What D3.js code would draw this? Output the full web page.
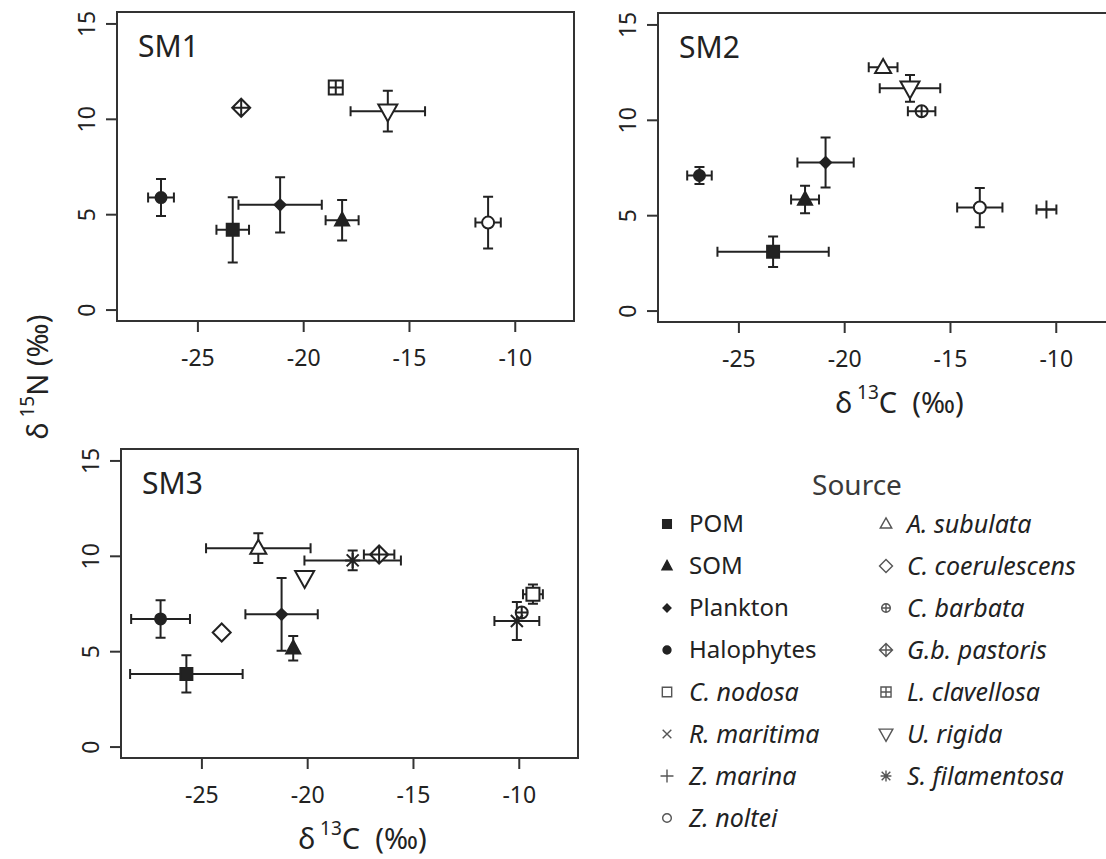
<!DOCTYPE html>
<html><head><meta charset="utf-8">
<script src="https://cdn.jsdelivr.net/npm/d3@7"></script>
<style>body{margin:0;background:#fff} svg{display:block;font-family:"Noto Sans",sans-serif}</style>
</head><body><svg id="c" width="1106" height="859"></svg>
<script>
// ---------- data ----------
const sources = ["POM","SOM","Plankton","Halophytes","C. nodosa","R. maritima","Z. marina","Z. noltei",
  "A. subulata","C. coerulescens","C. barbata","G.b. pastoris","L. clavellosa","U. rigida","S. filamentosa"];
const plainSources = ["POM","SOM","Plankton","Halophytes"];
const xTicks = [-25,-20,-15,-10];
const yTicks = [0,5,10,15];
const xDomain = [-28.8,-7.2];
const yDomain = [-0.6,15.6];

const sm1Source = ["Halophytes","POM","Plankton","SOM","Z. noltei","G.b. pastoris","L. clavellosa","U. rigida"];
const sm1C   = [-26.72,-23.33,-21.09,-18.16,-11.26,-22.93,-18.46,-16.0];
const sm1N   = [5.87,4.18,5.49,4.68,4.56,10.58,11.64,10.4];
const sm1CSd = [0.61,0.77,1.97,0.78,0.6,0,0,1.76];
const sm1NSd = [0.97,1.71,1.45,1.06,1.36,0,0,1.07];

const sm2Source = ["Halophytes","POM","SOM","Plankton","A. subulata","U. rigida","C. barbata","Z. noltei","Z. marina"];
const sm2C   = [-26.84,-23.36,-21.85,-20.88,-18.16,-16.89,-16.34,-13.59,-10.44];
const sm2N   = [7.08,3.08,5.82,7.76,12.75,11.65,10.45,5.40,5.30];
const sm2CSd = [0.58,2.63,0.66,1.33,0.68,1.43,0.65,1.07,0.47];
const sm2NSd = [0.45,0.8,0.72,1.31,0,0.7,0,1.03,0];

const sm3Source = ["Halophytes","POM","C. coerulescens","A. subulata","Plankton","SOM","U. rigida","S. filamentosa","G.b. pastoris","C. nodosa","C. barbata","R. maritima"];
const sm3C   = [-26.93,-25.71,-24.04,-22.31,-21.21,-20.66,-20.12,-17.85,-16.6,-9.33,-9.86,-10.09];
const sm3N   = [6.69,3.81,5.98,10.4,6.93,5.15,8.85,9.76,10.07,7.99,7.03,6.58];
const sm3CSd = [1.39,2.66,0,2.47,1.71,0,0,2.28,0.72,0.47,0,1.06];
const sm3NSd = [0.98,0.98,0,0.78,1.91,0.64,0,0.52,0,0.5,0,1.0];

// ---------- helpers ----------
const INK = "#222";
const svg = d3.select("#c");
const W = 457, H = 309;

function sq(h){return `M${-h},${-h}H${h}V${h}H${-h}Z`;}
function circ(r){return `M${-r},0A${r},${r} 0 1,0 ${r},0A${r},${r} 0 1,0 ${-r},0Z`;}
function dia(h){return `M0,${-h}L${h},0L0,${h}L${-h},0Z`;}
function plus(h){return `M${-h},0H${h}M0,${-h}V${h}`;}
function cross(h){return `M${-h},${-h}L${h},${h}M${-h},${h}L${h},${-h}`;}
function triUp(w,h){return `M0,${-h*0.6}L${w/2},${h*0.4}L${-w/2},${h*0.4}Z`;}
function triDown(w,h){return `M0,${h*0.6}L${w/2},${-h*0.4}L${-w/2},${-h*0.4}Z`;}

function marker(name,k){
  switch(name){
    case "POM": return {d:sq(6*k), f:"ink"};
    case "SOM": return {d:triUp(14*k,13*k), f:"ink"};
    case "Plankton": return {d:dia(5.5*k), f:"ink"};
    case "Halophytes": return {d:circ(5.5*k), f:"ink"};
    case "C. nodosa": return {d:sq(6.5*k), f:"white"};
    case "R. maritima": return {d:cross(6*k), f:"none"};
    case "Z. marina": return {d:plus(9*k), f:"none"};
    case "Z. noltei": return {d:circ(6*k), f:"white"};
    case "A. subulata": return {d:triUp(16*k,14*k), f:"white"};
    case "C. coerulescens": return {d:dia(9*k), f:"white"};
    case "C. barbata": return {d:circ(6*k)+plus(6*k), f:"white"};
    case "G.b. pastoris": return {d:dia(9*k)+plus(9*k), f:"white"};
    case "L. clavellosa": return {d:sq(7*k)+plus(7*k), f:"white"};
    case "U. rigida": return {d:triDown(19*k,17*k), f:"white"};
    case "S. filamentosa": return {d:plus(7.5*k)+cross(6*k), f:"none"};
  }
}

function xTitle(g, cx, baseline){
  const t = g.append("text").attr("x",cx).attr("y",baseline).attr("text-anchor","middle")
    .attr("font-size",29).attr("fill",INK);
  t.append("tspan").text("\u03b4\u2009");
  t.append("tspan").attr("font-size",19).attr("dy",-14).text("13");
  t.append("tspan").attr("dy",14).text("C\u00a0\u00a0(\u2030)");
}

// ---------- panels ----------
const panels = [
  {name:"SM1", left:117, top:12, src:sm1Source, c:sm1C, n:sm1N, cs:sm1CSd, ns:sm1NSd, title:false},
  {name:"SM2", left:658, top:13, src:sm2Source, c:sm2C, n:sm2N, cs:sm2CSd, ns:sm2NSd, title:true},
  {name:"SM3", left:121, top:449, src:sm3Source, c:sm3C, n:sm3N, cs:sm3CSd, ns:sm3NSd, title:true}
];

panels.forEach(p=>{
  const x = d3.scaleLinear().domain(xDomain).range([p.left,p.left+W]);
  const y = d3.scaleLinear().domain(yDomain).range([p.top+H,p.top]);
  const g = svg.append("g");

  const ax = g.append("g").attr("transform",`translate(0,${p.top+H})`)
    .call(d3.axisBottom(x).tickValues(xTicks).tickSize(11).tickSizeOuter(0).tickPadding(18).tickFormat(d=>String(d)));
  ax.select(".domain").remove();
  ax.selectAll("line").attr("stroke","#333").attr("stroke-width",2);
  ax.selectAll("text").attr("font-size",23).attr("fill",INK).attr("font-family","Noto Sans");

  const ay = g.append("g").attr("transform",`translate(${p.left},0)`)
    .call(d3.axisLeft(y).tickValues(yTicks).tickSize(11).tickSizeOuter(0));
  ay.select(".domain").remove();
  ay.selectAll("line").attr("stroke","#333").attr("stroke-width",2);
  ay.selectAll("text").attr("font-size",23).attr("fill",INK).attr("font-family","Noto Sans")
    .attr("transform","rotate(-90)").attr("x",0).attr("y",-22).attr("dy",0).attr("text-anchor","middle");

  g.append("rect").attr("x",p.left).attr("y",p.top).attr("width",W).attr("height",H)
    .attr("fill","none").attr("stroke","#333").attr("stroke-width",2);

  g.append("text").attr("x",p.left+21).attr("y",p.top+45).attr("font-size",30).attr("fill",INK).text(p.name);

  const rows = p.src.map((s,i)=>({s, c:p.c[i], n:p.n[i], cs:p.cs[i], ns:p.ns[i]}));
  const eb = g.append("g").attr("stroke",INK).attr("stroke-width",2).attr("fill","none");
  const cap = 5;
  rows.forEach(r=>{
    const px = x(r.c), py = y(r.n);
    if(r.cs>0){
      const x0 = x(r.c-r.cs), x1 = x(r.c+r.cs);
      eb.append("path").attr("d",`M${x0},${py}H${x1}M${x0},${py-cap}V${py+cap}M${x1},${py-cap}V${py+cap}`);
    }
    if(r.ns>0){
      const y0 = y(r.n-r.ns), y1 = y(r.n+r.ns);
      eb.append("path").attr("d",`M${px},${y0}V${y1}M${px-cap},${y0}H${px+cap}M${px-cap},${y1}H${px+cap}`);
    }
  });
  g.append("g").selectAll("path").data(rows).join("path")
    .attr("transform",r=>`translate(${x(r.c)},${y(r.n)})`)
    .attr("d",r=>marker(r.s,1).d)
    .attr("fill",r=>{const f=marker(r.s,1).f; return f==="ink"?INK:f;})
    .attr("stroke",INK).attr("stroke-width",2).attr("stroke-linejoin","miter");

  if(p.title) xTitle(g, p.left+W/2+13, p.top+H+91);
});

// y-axis title
{
  const t = svg.append("text").attr("transform","translate(48,377) rotate(-90)").attr("text-anchor","middle")
    .attr("font-size",29).attr("fill",INK);
  t.append("tspan").text("\u03b4\u2009");
  t.append("tspan").attr("font-size",19).attr("dy",-14).text("15");
  t.append("tspan").attr("dy",14).text("N\u00a0(\u2030)");
}

// ---------- legend ----------
const lg = svg.append("g");
lg.append("text").attr("x",857).attr("y",495).attr("text-anchor","middle").attr("font-size",28).attr("fill","#3a3a3a").text("Source");
const col1 = sources.slice(0,8), col2 = sources.slice(8);
[[col1,667,689],[col2,886,907]].forEach(([list,sx,tx])=>{
  list.forEach((s,i)=>{
    const yy = 524 + i*42;
    const m = marker(s,0.72);
    lg.append("path").attr("transform",`translate(${sx},${yy})`).attr("d",m.d)
      .attr("fill",m.f==="ink"?"#222":m.f).attr("stroke",m.f==="ink"?"#222":"#555").attr("stroke-width",1.4);
    const plain = plainSources.includes(s);
    lg.append("text").attr("x",tx).attr("y",yy).attr("dy","0.35em").attr("font-size",plain?24:25).attr("fill",INK)
      .attr("font-style",plain?"normal":"italic").text(s);
  });
});
</script></body></html>
